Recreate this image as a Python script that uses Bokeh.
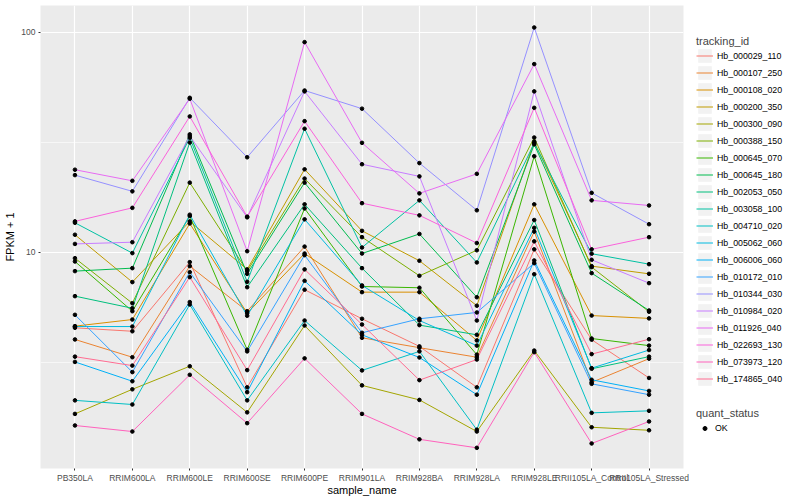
from bokeh.plotting import figure
from bokeh.models import (FactorRange, Range1d, FixedTicker, PrintfTickFormatter,
                          Legend, LegendItem)
from bokeh.layouts import row
from bokeh.embed import file_html
from bokeh.resources import INLINE

samples = ["PB350LA", "RRIM600LA", "RRIM600LE", "RRIM600SE", "RRIM600PE", "RRIM901LA",
           "RRIM928BA", "RRIM928LA", "RRIM928LE", "RRII105LA_Control", "RRII105LA_Stressed"]

# FPKM + 1 per sample (same order as samples)
hb_000029_110 = [4.53, 4.37, 9.01, 2.43, 6.75, 4.98, 3.73, 2.43, 10.3, 4.00, 2.68]
hb_000107_250 = [4.01, 3.33, 8.64, 5.39, 10.6, 4.08, 3.68, 3.33, 12.4, 2.56, 3.28]
hb_000108_020 = [4.61, 4.94, 13.5, 5.28, 9.86, 6.58, 6.58, 3.97, 16.5, 5.15, 5.00]
hb_000200_350 = [12.0, 7.31, 13.8, 8.35, 23.8, 12.5, 9.14, 5.71, 31.8, 8.64, 7.97]
hb_000300_090 = [1.84, 2.38, 3.03, 1.87, 4.64, 2.48, 2.13, 1.53, 3.57, 1.60, 1.55]
hb_000388_150 = [9.39, 5.86, 20.7, 8.20, 21.6, 11.7, 7.81, 10.2, 33.2, 8.55, 5.36]
hb_000645_070 = [9.07, 5.39, 14.6, 3.60, 15.8, 6.98, 6.89, 3.42, 27.3, 4.05, 3.76]
hb_000645_180 = [8.20, 8.46, 34.3, 7.97, 20.7, 9.86, 12.1, 6.24, 30.9, 8.03, 5.43]
hb_002053_050 = [6.31, 5.56, 31.5, 6.93, 16.5, 8.46, 4.66, 4.21, 14.0, 2.95, 3.35]
hb_003058_100 = [13.6, 9.90, 33.1, 7.33, 36.4, 10.5, 17.2, 8.98, 31.3, 9.84, 8.82]
hb_004710_020 = [2.12, 2.03, 5.78, 2.12, 4.89, 2.90, 3.54, 1.56, 7.94, 1.86, 1.90]
hb_005062_060 = [4.59, 4.59, 14.8, 5.14, 14.1, 7.06, 4.89, 3.76, 12.9, 2.97, 3.59]
hb_006006_060 = [3.17, 2.59, 5.93, 2.31, 7.41, 4.21, 3.32, 2.25, 9.17, 2.63, 2.34]
hb_010172_010 = [5.19, 2.85, 8.11, 3.54, 9.69, 4.30, 4.98, 5.32, 8.91, 2.52, 2.25]
hb_010344_030 = [22.4, 18.9, 50.3, 27.0, 54.3, 44.9, 25.4, 15.5, 105.0, 18.6, 13.4]
hb_010984_020 = [10.9, 11.1, 33.7, 14.4, 53.8, 25.1, 22.1, 4.89, 53.8, 9.23, 7.23]
hb_011926_040 = [23.7, 21.1, 49.8, 10.1, 90.1, 31.4, 18.5, 22.7, 71.6, 17.2, 16.3]
hb_022693_130 = [13.8, 15.9, 41.4, 14.5, 39.4, 16.7, 14.7, 11.0, 45.3, 10.3, 11.7]
hb_073973_120 = [1.63, 1.53, 2.77, 1.67, 3.29, 1.84, 1.41, 1.29, 3.51, 1.35, 1.70]
hb_174865_040 = [3.35, 3.05, 7.70, 2.91, 8.35, 4.69, 2.62, 3.25, 11.2, 3.44, 4.02]

tracking_ids = ["Hb_000029_110", "Hb_000107_250", "Hb_000108_020", "Hb_000200_350",
                "Hb_000300_090", "Hb_000388_150", "Hb_000645_070", "Hb_000645_180",
                "Hb_002053_050", "Hb_003058_100", "Hb_004710_020", "Hb_005062_060",
                "Hb_006006_060", "Hb_010172_010", "Hb_010344_030", "Hb_010984_020",
                "Hb_011926_040", "Hb_022693_130", "Hb_073973_120", "Hb_174865_040"]
series = [hb_000029_110, hb_000107_250, hb_000108_020, hb_000200_350, hb_000300_090,
          hb_000388_150, hb_000645_070, hb_000645_180, hb_002053_050, hb_003058_100,
          hb_004710_020, hb_005062_060, hb_006006_060, hb_010172_010, hb_010344_030,
          hb_010984_020, hb_011926_040, hb_022693_130, hb_073973_120, hb_174865_040]
quant_status = ["OK"]

colors = ["#F8766D", "#EA8331", "#D89000", "#C09B00", "#A3A500", "#7CAE00", "#39B600",
          "#00BB4E", "#00BF7D", "#00C1A3", "#00BFC4", "#00BAE0", "#00B0F6", "#35A2FF",
          "#9590FF", "#C77CFF", "#E76BF3", "#FA62DB", "#FF62BC", "#FF6C91"]

FONT = "Liberation Sans"

p = figure(x_range=FactorRange(factors=samples, range_padding=0.1, range_padding_units="absolute"),
           y_range=Range1d(1.039, 132.2), y_axis_type="log",
           width=689, height=500, toolbar_location=None, output_backend="svg",
           min_border_left=40, min_border_right=6, min_border_top=5, min_border_bottom=32,
           background_fill_color="#EBEBEB", border_fill_color="white",
           outline_line_color=None)

for vals, c in zip(series, colors):
    p.line(x=samples, y=vals, line_color=c, line_width=1)
for vals in series:
    p.scatter(x=samples, y=vals, marker="circle", size=3.6, fill_color="black", line_color="black")

p.yaxis.ticker = FixedTicker(ticks=[10, 100], minor_ticks=[10 ** 0.5, 10 ** 1.5])
p.yaxis.formatter = PrintfTickFormatter(format="%d")
p.xaxis.axis_label = "sample_name"
p.yaxis.axis_label = "FPKM + 1"

for ax in [p.xaxis[0], p.yaxis[0]]:
    ax.axis_line_color = None
    ax.major_tick_line_color = "#333333"
    ax.major_tick_in = 0
    ax.major_tick_out = 2
    ax.minor_tick_line_color = None
    ax.major_label_text_font = FONT
    ax.major_label_text_font_size = "8.5px"
    ax.major_label_text_color = "#4D4D4D"
    ax.axis_label_text_font = FONT
    ax.axis_label_text_font_size = "11px"
    ax.axis_label_text_font_style = "normal"
    ax.axis_label_text_color = "black"
p.xaxis.major_label_standoff = 2
p.xaxis.axis_label_standoff = -2
p.yaxis.major_label_standoff = 1
p.yaxis.axis_label_standoff = 2

p.xgrid.grid_line_color = "white"
p.xgrid.grid_line_width = 1.2
p.ygrid.grid_line_color = "white"
p.ygrid.grid_line_width = 1.2
p.ygrid.minor_grid_line_color = "white"
p.ygrid.minor_grid_line_width = 0.6

# legend panel: proxy renderers hold the real data but sit outside this panel's view
p2 = figure(width=105, height=500, toolbar_location=None, output_backend="svg",
            x_axis_location=None, y_axis_location=None, min_border=0,
            outline_line_color=None, x_range=FactorRange(factors=samples),
            y_range=Range1d(1000, 2000))
p2.grid.visible = False

bg = p2.rect(x=samples, y=hb_000029_110, width=0.5, height=1,
             fill_color="#F2F2F2", line_color=None)
items = []
for name, vals, c in zip(tracking_ids, series, colors):
    lr = p2.line(x=samples, y=vals, line_color=c, line_width=1)
    items.append(LegendItem(label=name, renderers=[bg, lr]))

leg1 = Legend(items=items, title="tracking_id", location=(7, 81))
leg2_dot = p2.scatter(x=samples, y=hb_000029_110, marker="circle",
                      fill_color="black", line_color="black")
leg2 = Legend(items=[LegendItem(label=quant_status[0], renderers=[leg2_dot])],
              title="quant_status", location=(7, 32))

for lg in (leg1, leg2):
    lg.padding = 0
    lg.margin = 0
    lg.spacing = 0
    lg.label_height = 17
    lg.glyph_width = 17
    lg.glyph_height = 17
    lg.label_standoff = 4
    lg.label_text_font = FONT
    lg.label_text_font_size = "8.8px"
    lg.label_text_color = "black"
    lg.title_text_font = FONT
    lg.title_text_font_size = "11px"
    lg.title_text_font_style = "normal"
    lg.title_standoff = 0
    lg.border_line_color = None
    lg.background_fill_alpha = 0
leg2.glyph_height = 10
leg2.label_standoff = 2
p2.add_layout(leg1)
p2.add_layout(leg2)

layout = row(p, p2)
open("out.html", "w").write(file_html(layout, INLINE))
